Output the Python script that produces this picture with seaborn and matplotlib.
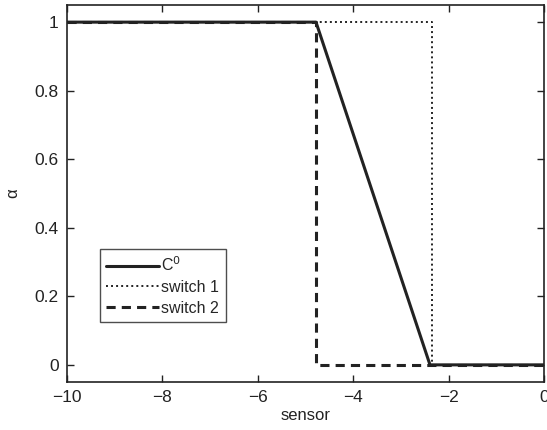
import matplotlib
matplotlib.use("Agg")
import matplotlib.pyplot as plt
import seaborn as sns
import pandas as pd

# data
c0_x = [-10, -4.78, -2.39, 0]
c0_y = [1, 1, 0, 0]
sw1_x = [-10, -2.35, -2.35, 0]
sw1_y = [1, 1, 0, 0]
sw2_x = [-10, -4.77, -4.77, 0]
sw2_y = [1, 1, 0, 0]
xticks = [-10, -8, -6, -4, -2, 0]
yticks = [0, 0.2, 0.4, 0.6, 0.8, 1]
ytick_labels = ["0", "0.2", "0.4", "0.6", "0.8", "1"]

sns.set_theme(style="white")
plt.rcParams['font.family'] = ['Liberation Sans', 'DejaVu Sans']

fig = plt.figure(figsize=(5.47, 4.30), dpi=100)
ax = fig.add_axes([67/547, 1 - 382/430, (544-67)/547, (382-5)/430])

def draw(xs, ys, label, ls, lw):
    df = pd.DataFrame({"x": xs, "y": ys})
    sns.lineplot(data=df, x="x", y="y", ax=ax, color="#222222", linestyle=ls,
                 linewidth=lw, label=label, sort=False, estimator=None)

draw(c0_x, c0_y, r"C$^0$", "-", 2.2)
draw(sw1_x, sw1_y, "switch 1", (0, (1, 1.6)), 1.4)
draw(sw2_x, sw2_y, "switch 2", (0, (3, 2)), 2.2)

ax.set_xlim(-10, 0)
ax.set_ylim(-0.05, 1.05)
ax.set_xticks(xticks)
ax.set_xticklabels(["\u221210", "\u22128", "\u22126", "\u22124", "\u22122", "0"])
ax.set_yticks(yticks)
ax.set_yticklabels(ytick_labels)
ax.tick_params(axis="both", which="both", direction="in", length=5, width=1,
               top=True, right=True, bottom=True, left=True, labelsize=12.5,
               colors="#222222", pad=6)
for s in ax.spines.values():
    s.set_color("#222222")
    s.set_linewidth(1.2)
ax.set_xlabel("sensor", fontsize=12, color="#222222", labelpad=2)
ax.set_ylabel("\u03b1", fontsize=12, color="#222222", labelpad=10)

leg = ax.legend(loc="lower left", bbox_to_anchor=(33/477, 60/377), fontsize=11.5,
                frameon=True, fancybox=False, handlelength=3.3, handletextpad=0.15,
                borderpad=0.4, labelspacing=0.35, borderaxespad=0)
leg.get_frame().set_edgecolor("#222222")
leg.get_frame().set_linewidth(1.0)

fig.savefig("out.png", dpi=100)
